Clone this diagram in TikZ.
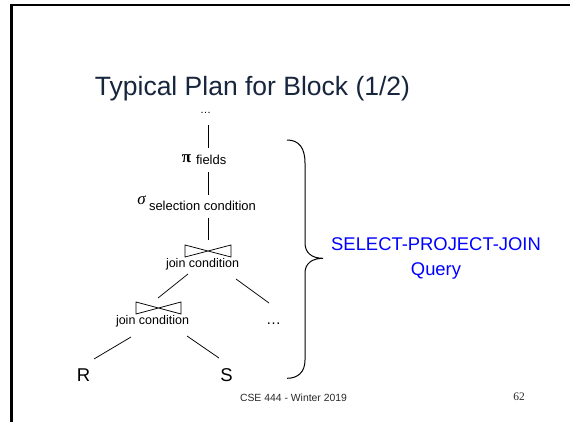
\documentclass[tikz,border=0pt]{standalone}
\usepackage{fontspec}
\setmainfont{Liberation Sans}
\newfontfamily\seriffont{Liberation Serif}
\definecolor{titlecol}{RGB}{23,37,61}
\definecolor{spjblue}{RGB}{0,0,255}
\definecolor{footgray}{RGB}{40,40,40}
\begin{document}
\begin{tikzpicture}[x=1pt,y=-1pt,
  lbl/.style={inner sep=0pt, outer sep=0pt, anchor=base},
  fs/.style={font=\fontsize{#1}{#1}\selectfont},
  conn/.style={line width=0.75pt},
  bowtie/.style={minimum width=46pt, minimum height=12pt, inner sep=0pt, outer sep=0pt},
  bowline/.style={line width=0.75pt, line join=miter},
  bracestyle/.style={line width=1pt}]
\useasboundingbox (0,0) rectangle (570,422);
% frame
\draw[line width=3pt] (11.5,422) -- (11.5,3.9);
\draw[line width=2.4pt] (10,5.2) -- (570,5.2);
% title
\node[lbl, fs=26.5, text=titlecol] (title) at (252.5,96) {Typical Plan for Block (1/2)};
% tree
\node[lbl, fs=11] (dots) at (205.5,113.5) {…};
\node[lbl, fs=17] (pi) at (186.5,162.5) {\seriffont\bfseries π};
\node[lbl, anchor=base west, fs=13] (fields) at (196,165) {fields};
\node[lbl, fs=17] (sig) at (141.5,204.5) {\seriffont\itshape σ};
\node[lbl, anchor=base west, fs=13] (selc) at (149,211) {selection condition};
\node[bowtie] (b1) at (208,251) {};
\draw[bowline] (b1.north west) -- (b1.south west) -- (b1.north east) -- (b1.south east) -- cycle;
\node[lbl, fs=12.5] (j1) at (202.5,267.5) {join condition};
\node[bowtie, minimum width=45pt] (b2) at (158.5,308) {};
\draw[bowline] (b2.north west) -- (b2.south west) -- (b2.north east) -- (b2.south east) -- cycle;
\node[lbl, fs=12.5] (j2) at (152.5,324.5) {join condition};
\node[lbl, fs=15] (more) at (273.5,324) {…};
\node[lbl, fs=18.5] (R) at (83.5,381.7) {R};
\node[lbl, fs=18.5] (S) at (226.5,381.7) {S};
% connectors
\draw[conn, shorten <=11.5pt, shorten >=14.5pt] (b1 |- dots.base) -- (b1 |- pi.base);
\draw[conn, shorten <=9.5pt, shorten >=9.5pt] (b1 |- pi.base) -- (b1 |- sig.base);
\draw[conn, shorten <=13.5pt, shorten >=5pt] (b1 |- sig.base) -- (b1.north);
\draw[conn] ([shift={(-14.5,6.5)}]j1.base) -- ([shift={(-0.5,-4)}]b2.north);
\draw[conn] ([shift={(33.5,11.5)}]j1.base) -- ([shift={(-4.5,-21)}]more.base);
\draw[conn] ([shift={(-21.5,12.5)}]j2.base) -- ([shift={(10.5,-22.7)}]R.base);
\draw[conn] ([shift={(34.5,11.5)}]j2.base) -- ([shift={(-7.5,-23.7)}]S.base);
% brace
\draw[bracestyle] (287,140) .. controls (299,140) and (305,148) .. (305,163)
  -- (305,243) .. controls (305,253) and (312,258.3) .. (323,258.3)
  .. controls (312,258.3) and (305,263.5) .. (305,273)
  -- (305,360) .. controls (305,372) and (298,378.3) .. (287,378.3);
% label
\node[lbl, fs=18.4, text=spjblue] (spj) at (436,251) {SELECT-PROJECT-JOIN};
\node[lbl, fs=18.4, text=spjblue] (query) at (436,275) {Query};
% footer
\node[lbl, fs=10.4, text=footgray] (foot) at (293.5,401.5) {CSE 444 - Winter 2019};
\node[lbl, fs=11.5, text=footgray] (page) at (519,400.5) {\seriffont 62};
\end{tikzpicture}
\end{document}
